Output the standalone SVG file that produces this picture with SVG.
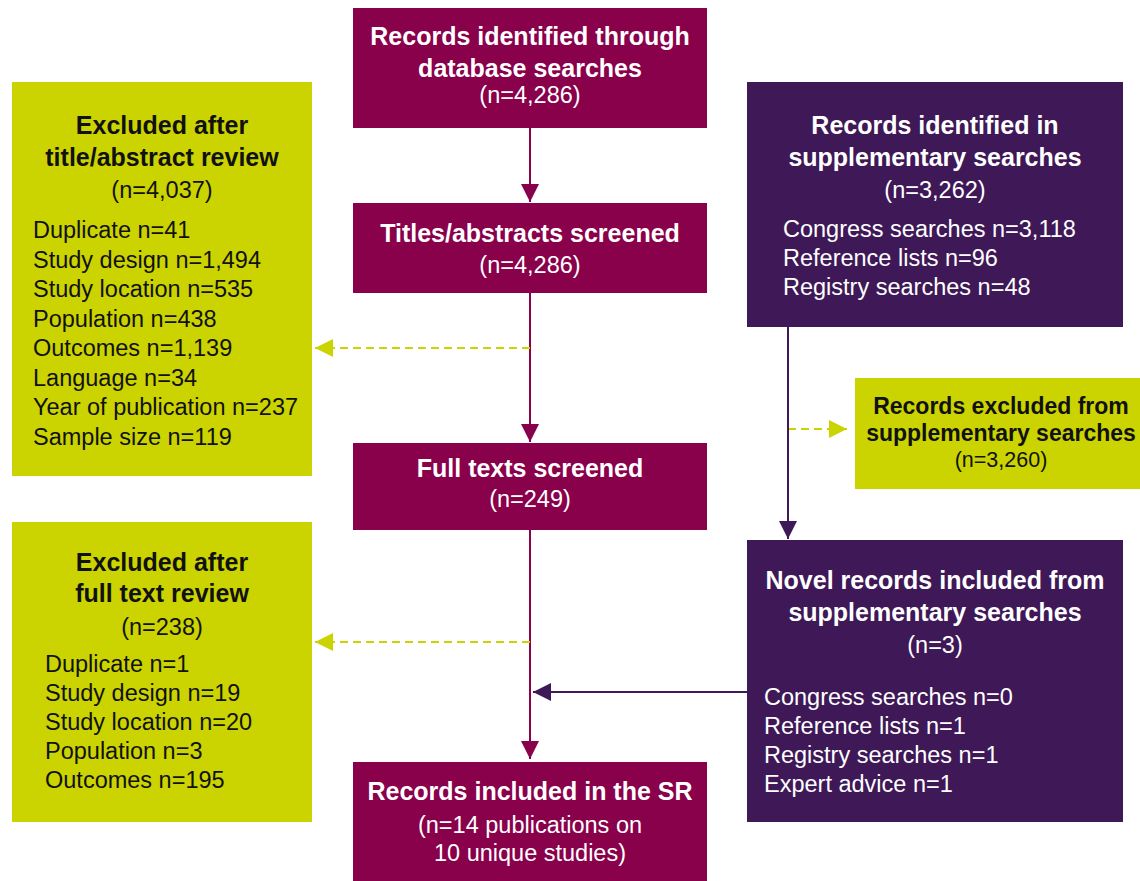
<svg xmlns="http://www.w3.org/2000/svg" width="1140" height="881" viewBox="0 0 1140 881">
<defs>
<style>
.mag{fill:#89004B}
.pur{fill:#3E1857}
.grn{fill:#CBD400}
text{font-family:"Liberation Sans",Arial,Helvetica,sans-serif}
.tb{font-weight:bold;font-size:25px;text-anchor:middle}
.tn{font-size:23.5px;text-anchor:middle}
.tl{font-size:23.5px}
.w{fill:#FFFFFF}
.k{fill:#111111}
.sb{font-weight:bold;font-size:23px;text-anchor:middle}
.sn{font-size:21.5px;text-anchor:middle}
.cm{stroke:#89004B;stroke-width:2;fill:none}
.cp{stroke:#3E1857;stroke-width:2;fill:none}
.cg{stroke:#CBD400;stroke-width:2;fill:none;stroke-dasharray:8 5}
</style>
<marker id="am" viewBox="0 0 18 18" refX="18" refY="9" markerWidth="18" markerHeight="18" markerUnits="userSpaceOnUse" orient="auto"><path d="M0,0 L18,9 L0,18 Z" fill="#89004B"/></marker>
<marker id="ap" viewBox="0 0 18 18" refX="18" refY="9" markerWidth="18" markerHeight="18" markerUnits="userSpaceOnUse" orient="auto"><path d="M0,0 L18,9 L0,18 Z" fill="#3E1857"/></marker>
<marker id="ag" viewBox="0 0 18 18" refX="18" refY="9" markerWidth="18" markerHeight="18" markerUnits="userSpaceOnUse" orient="auto"><path d="M0,0 L18,9 L0,18 Z" fill="#CBD400"/></marker>
</defs>
<rect width="1140" height="881" fill="#FFFFFF"/>
<g id="connectors">
<line class="cm" x1="530" y1="128" x2="530" y2="202" marker-end="url(#am)"/>
<line class="cm" x1="530" y1="293" x2="530" y2="442" marker-end="url(#am)"/>
<line class="cm" x1="530" y1="529" x2="530" y2="759" marker-end="url(#am)"/>
<line class="cg" x1="530" y1="348" x2="315" y2="348" marker-end="url(#ag)"/>
<line class="cg" x1="530" y1="642" x2="315" y2="642" marker-end="url(#ag)"/>
<line class="cg" x1="788" y1="429" x2="847" y2="429" marker-end="url(#ag)"/>
<line class="cp" x1="788" y1="327" x2="788" y2="539" marker-end="url(#ap)"/>
<line class="cp" x1="748" y1="692" x2="533" y2="692" marker-end="url(#ap)"/>
</g>
<g id="db">
<rect class="mag" x="353" y="8" width="354" height="120"/>
<text class="tb w" x="530" y="45">Records identified through</text>
<text class="tb w" x="530" y="77">database searches</text>
<text class="tn w" x="530" y="103">(n=4,286)</text>
</g>
<g id="screened">
<rect class="mag" x="353" y="203" width="354" height="90"/>
<text class="tb w" x="530" y="242">Titles/abstracts screened</text>
<text class="tn w" x="530" y="273">(n=4,286)</text>
</g>
<g id="fulltext">
<rect class="mag" x="353" y="443" width="354" height="87"/>
<text class="tb w" x="530" y="477">Full texts screened</text>
<text class="tn w" x="530" y="507">(n=249)</text>
</g>
<g id="included">
<rect class="mag" x="353" y="762" width="354" height="119"/>
<text class="tb w" x="530" y="800">Records included in the SR</text>
<text class="tn w" x="530" y="833">(n=14 publications on</text>
<text class="tn w" x="530" y="861">10 unique studies)</text>
</g>
<g id="excl1">
<rect class="grn" x="12" y="82" width="300" height="394"/>
<text class="tb k" x="162" y="134">Excluded after</text>
<text class="tb k" x="162" y="166">title/abstract review</text>
<text class="tn k" x="162" y="198">(n=4,037)</text>
<text class="tl k" x="33" y="238">Duplicate n=41</text>
<text class="tl k" x="33" y="267.5">Study design n=1,494</text>
<text class="tl k" x="33" y="297">Study location n=535</text>
<text class="tl k" x="33" y="326.5">Population n=438</text>
<text class="tl k" x="33" y="356">Outcomes n=1,139</text>
<text class="tl k" x="33" y="385.5">Language n=34</text>
<text class="tl k" x="33" y="415">Year of publication n=237</text>
<text class="tl k" x="33" y="444.5">Sample size n=119</text>
</g>
<g id="excl2">
<rect class="grn" x="12" y="522" width="300" height="300"/>
<text class="tb k" x="162" y="571">Excluded after</text>
<text class="tb k" x="162" y="602">full text review</text>
<text class="tn k" x="162" y="635">(n=238)</text>
<text class="tl k" x="45" y="672">Duplicate n=1</text>
<text class="tl k" x="45" y="701">Study design n=19</text>
<text class="tl k" x="45" y="730">Study location n=20</text>
<text class="tl k" x="45" y="759">Population n=3</text>
<text class="tl k" x="45" y="788">Outcomes n=195</text>
</g>
<g id="supp">
<rect class="pur" x="747" y="82" width="376" height="245"/>
<text class="tb w" x="935" y="134">Records identified in</text>
<text class="tb w" x="935" y="166">supplementary searches</text>
<text class="tn w" x="935" y="198">(n=3,262)</text>
<text class="tl w" x="783" y="237">Congress searches n=3,118</text>
<text class="tl w" x="783" y="266">Reference lists n=96</text>
<text class="tl w" x="783" y="295">Registry searches n=48</text>
</g>
<g id="suppexcl">
<rect class="grn" x="855" y="378" width="285" height="111"/>
<text class="sb k" x="1001" y="414">Records excluded from</text>
<text class="sb k" x="1001" y="441">supplementary searches</text>
<text class="sn k" x="1001" y="467">(n=3,260)</text>
</g>
<g id="novel">
<rect class="pur" x="747" y="540" width="376" height="282"/>
<text class="tb w" x="935" y="589">Novel records included from</text>
<text class="tb w" x="935" y="621">supplementary searches</text>
<text class="tn w" x="935" y="653">(n=3)</text>
<text class="tl w" x="764" y="705">Congress searches n=0</text>
<text class="tl w" x="764" y="734">Reference lists n=1</text>
<text class="tl w" x="764" y="763">Registry searches n=1</text>
<text class="tl w" x="764" y="792">Expert advice n=1</text>
</g>
</svg>
